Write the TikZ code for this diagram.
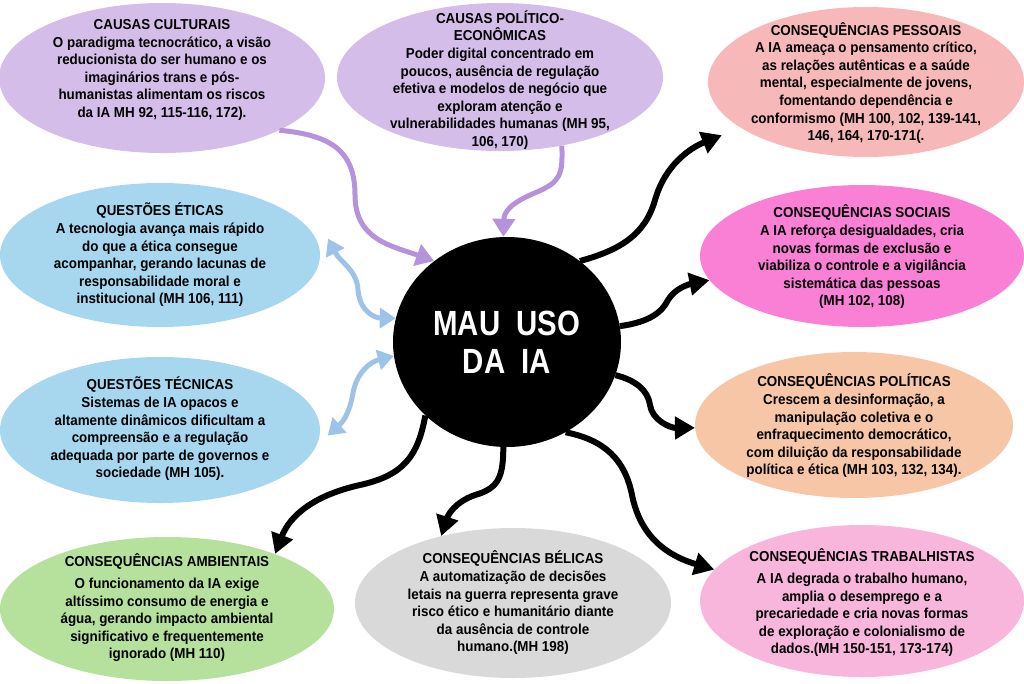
\documentclass[tikz,border=0pt]{standalone}
\usepackage{fontspec}
\setmainfont{Liberation Sans}
\newfontfamily\bigfont[FakeStretch=0.84]{Liberation Sans}
\newfontfamily\bodyfont[FakeStretch=0.93]{Liberation Sans}
\usetikzlibrary{shapes.geometric,arrows.meta}
\definecolor{cpurple}{HTML}{D5BDE9}
\definecolor{apurple}{HTML}{B592DC}
\definecolor{cblue}{HTML}{A6D7EF}
\definecolor{ablue}{HTML}{9DC3E8}
\definecolor{cpes}{HTML}{F7B8BA}
\definecolor{csoc}{HTML}{FA80D6}
\definecolor{cpolit}{HTML}{F6C6A7}
\definecolor{ctra}{HTML}{F8B6DC}
\definecolor{cbel}{HTML}{D9D9D9}
\definecolor{camb}{HTML}{B5E19D}
\begin{document}
\begin{tikzpicture}[x=1pt,y=-1pt,
  ell/.style={ellipse, draw=none, inner sep=0pt},
  txt/.style={align=center, font=\bodyfont\bfseries\fontsize{14.4}{17.6}\selectfont, inner sep=0pt, text=black},
  blk/.style={line width=6pt, draw=black, -{Triangle[length=20pt,width=22pt]}},
  pur/.style={line width=5pt, draw=apurple, -{Triangle[length=18pt,width=22pt]}},
  blu/.style={line width=5pt, draw=ablue, {Triangle[length=16pt,width=20pt]}-{Triangle[length=16pt,width=20pt]}}]
\useasboundingbox (0,0) rectangle (1024,683);

% ellipses
\node[ell, fill=cpurple, minimum width=326pt, minimum height=150pt] (cul) at (162,78) {};
\node[txt] (cult) at (162,70) {CAUSAS CULTURAIS\\O paradigma tecnocrático, a visão\\reducionista do ser humano e os\\imaginários trans e pós-\\humanistas alimentam os riscos\\da IA MH 92, 115-116, 172).};

\node[ell, fill=cpurple, minimum width=326pt, minimum height=148pt] (pol) at (500,77) {};
\node[txt] (polt) at (500,80) {CAUSAS POLÍTICO-\\ECONÔMICAS\\Poder digital concentrado em\\poucos, ausência de regulação\\efetiva e modelos de negócio que\\exploram atenção e\\vulnerabilidades humanas (MH 95,\\106, 170)};

\node[ell, fill=cpes, minimum width=316pt, minimum height=150pt] (pes) at (866,82) {};
\node[txt] (pest) at (866,83) {CONSEQUÊNCIAS PESSOAIS\\A IA ameaça o pensamento crítico,\\as relações autênticas e a saúde\\mental, especialmente de jovens,\\fomentando dependência e\\conformismo (MH 100, 102, 139-141,\\146, 164, 170-171(.};

\node[ell, fill=csoc, minimum width=324pt, minimum height=142pt] (soc) at (862,256) {};
\node[txt] (soct) at (862,257) {CONSEQUÊNCIAS SOCIAIS\\A IA reforça desigualdades, cria\\novas formas de exclusão e\\viabiliza o controle e a vigilância\\sistemática das pessoas\\(MH 102, 108)};

\node[ell, fill=cpolit, minimum width=318pt, minimum height=146pt] (plt) at (854,425) {};
\node[txt] (pltt) at (854,426) {CONSEQUÊNCIAS POLÍTICAS\\Crescem a desinformação, a\\manipulação coletiva e o\\enfraquecimento democrático,\\com diluição da responsabilidade\\política e ética (MH 103, 132, 134).};

\node[ell, fill=ctra, minimum width=324pt, minimum height=152pt] (tra) at (862,601) {};
\node[txt] (trat) at (862,603) {CONSEQUÊNCIAS TRABALHISTAS\\[4pt]A IA degrada o trabalho humano,\\amplia o desemprego e a\\precariedade e cria novas formas\\de exploração e colonialismo de\\dados.(MH 150-151, 173-174)};

\node[ell, fill=cbel, minimum width=316pt, minimum height=150pt] (bel) at (513,603) {};
\node[txt] (belt) at (513,603) {CONSEQUÊNCIAS BÉLICAS\\A automatização de decisões\\letais na guerra representa grave\\risco ético e humanitário diante\\da ausência de controle\\humano.(MH 198)};

\node[ell, fill=camb, minimum width=334pt, minimum height=144pt] (amb) at (167,609) {};
\node[txt] (ambt) at (167,608) {CONSEQUÊNCIAS AMBIENTAIS\\[4pt]O funcionamento da IA exige\\altíssimo consumo de energia e\\água, gerando impacto ambiental\\significativo e frequentemente\\ignorado (MH 110)};

\node[ell, fill=cblue, minimum width=320pt, minimum height=144pt] (eti) at (160,255) {};
\node[txt] (etit) at (160,255) {QUESTÕES ÉTICAS\\A tecnologia avança mais rápido\\do que a ética consegue\\acompanhar, gerando lacunas de\\responsabilidade moral e\\institucional (MH 106, 111)};

\node[ell, fill=cblue, minimum width=320pt, minimum height=146pt] (tec) at (160,430) {};
\node[txt] (tect) at (160,429) {QUESTÕES TÉCNICAS\\Sistemas de IA opacos e\\altamente dinâmicos dificultam a\\compreensão e a regulação\\adequada por parte de governos e\\sociedade (MH 105).};

% center
\node[ell, fill=black, minimum width=228pt, minimum height=210pt] (mau) at (507,342) {};
\node[align=center, text=white, font=\bigfont\bfseries\fontsize{35}{38}\selectfont, inner sep=0pt] (maut) at (507,342) {MAU\ \ USO\\DA\ \ IA};

% purple arrows
\draw[pur] (cul.-24) .. controls (330,135) and (355,150) .. (355,195) .. controls (355,240) and (392,246) .. (mau.132);
\draw[pur] (pol.-48) .. controls (563,175) and (560,182) .. (537,192) .. controls (510,203) and (504,212) .. (mau.92);

% blue arrows
\draw[blu] ([xshift=12pt]eti.6) .. controls (340,262) and (357,270) .. (358,290) .. controls (360,312) and (375,318) .. (mau.168);
\draw[blu] ([xshift=8pt]tec.-2) .. controls (345,420) and (350,410) .. (353,393) .. controls (357,372) and (370,362) .. (mau.187);

% black arrows
\draw[blk, shorten >=20pt] (mau.48) .. controls (620,250) and (645,235) .. (655,200) .. controls (665,165) and (690,148) .. (pes.200);
\draw[blk] (mau.8) .. controls (650,322) and (662,312) .. (668,300) .. controls (675,288) and (690,284) .. (soc.189);
\draw[blk] (mau.-17) .. controls (635,380) and (648,390) .. (650,405) .. controls (652,420) and (670,428) .. (plt.181);
\draw[blk] (mau.-57) .. controls (605,440) and (625,460) .. (632,495) .. controls (640,535) and (665,555) .. (tra.168);
\draw[blk] (mau.268) .. controls (503,475) and (500,488) .. (475,495) .. controls (455,502) and (448,515) .. (bel.137);
\draw[blk] (mau.222) .. controls (418,455) and (405,475) .. (360,485) .. controls (315,495) and (290,515) .. (amb.27);
\end{tikzpicture}
\end{document}
